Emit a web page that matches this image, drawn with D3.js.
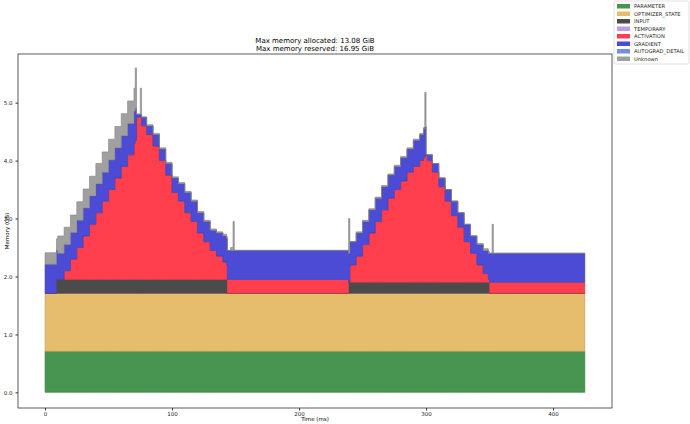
<!DOCTYPE html><html><head><meta charset="utf-8"><script src="https://cdn.jsdelivr.net/npm/d3@7"></script>
<style>body{margin:0;background:#fff}text{font-family:"DejaVu Sans",sans-serif}</style></head><body><svg id="c" width="690" height="424"></svg>
<script>
const categories=["PARAMETER","OPTIMIZER_STATE","INPUT","TEMPORARY","ACTIVATION","GRADIENT","AUTOGRAD_DETAIL","Unknown"];
const colors=["#479550","#e6bd6c","#4b4b4b","#b9a0e6","#ff3f4e","#4b4bd6","#6f8fe8","#a0a0a0"];
const time=[0,9,10,15,20,25,30,35,40,45,50,55,60,65,70,71,72,75,76,80,85,90,95,100,105,110,115,120,125,130,135,140,143,143.5,146,148,149,238,239,240,245,250,255,260,265,270,275,280,285,290,295,298,299,300,301,305,310,315,320,325,330,335,340,345,349,350,352,353,425];
const parameter=time.map(()=>0.71);
const optimizer=time.map(()=>1.0);
const input=[0,0.24,0.24,0.24,0.24,0.24,0.24,0.24,0.24,0.24,0.24,0.24,0.24,0.24,0.24,0.24,0.24,0.24,0.24,0.24,0.24,0.24,0.24,0.24,0.24,0.24,0.24,0.24,0.24,0.24,0.24,0.24,0.24,0,0,0,0,0,0.19,0.19,0.19,0.19,0.19,0.19,0.19,0.19,0.19,0.19,0.19,0.19,0.19,0.19,0.19,0.19,0.19,0.19,0.19,0.19,0.19,0.19,0.19,0.19,0.19,0.19,0.19,0,0,0,0];
const temporary=time.map(()=>0);
const activation=[0,0,0,0.15,0.35,0.55,0.75,0.95,1.15,1.35,1.55,1.75,1.95,2.15,2.35,2.4,2.8,2.8,2.65,2.5,2.3,2.05,1.8,1.5,1.35,1.15,1.0,0.8,0.65,0.5,0.4,0.3,0.25,0.24,0.24,0.24,0.24,0.24,0,0.3,0.45,0.65,0.85,1.05,1.25,1.45,1.6,1.75,1.9,2.0,2.1,2.15,2.18,2.2,2.1,1.9,1.65,1.4,1.15,0.95,0.7,0.5,0.3,0.15,0.05,0.19,0.19,0.19,0.19];
const gradient=[0.5,0.5,0.45,0.45,0.46,0.47,0.48,0.49,0.5,0.5,0.51,0.52,0.53,0.54,0.55,0.55,0.05,0.05,0.15,0.15,0.2,0.2,0.2,0.25,0.3,0.35,0.35,0.35,0.35,0.35,0.4,0.45,0.45,0.5,0.5,0.5,0.5,0.5,0.5,0.4,0.4,0.4,0.4,0.4,0.4,0.4,0.4,0.4,0.4,0.45,0.45,0.5,0.5,0,0.1,0.15,0.15,0.2,0.25,0.25,0.3,0.3,0.35,0.4,0.45,0.5,0.5,0.5,0.5];
const autograd=time.map(()=>0);
const unknown=[0.2,0.2,0.3,0.3,0.3,0.32,0.33,0.34,0.35,0.35,0.36,0.37,0.38,0.39,0.4,0.7,0,0.45,0,0.02,0.02,0.02,0.02,0.02,0.02,0.02,0.02,0.02,0.02,0.02,0.02,0.03,0.03,0,0.05,0.5,0,0,0.6,0,0.02,0.02,0.02,0.02,0.02,0.02,0.02,0.02,0.02,0.02,0.02,0.02,0.6,0,0,0,0,0,0,0,0,0,0.02,0.03,0.03,0,0.5,0,0];
const series=[parameter,optimizer,input,temporary,activation,gradient,autograd,unknown];
const xTicks=[0,100,200,300,400], yTicks=[0,1,2,3,4,5];

const svg=d3.select("#c");
const L=18,R=612,T=54,B=408;
const x=d3.scaleLinear().domain([-21.3,446.4]).range([L,R]);
const y=d3.scaleLinear().domain([-0.27,5.84]).range([B,T]);
const rows=time.map((t,i)=>{const r={t};categories.forEach((c,k)=>r[c]=series[k][i]);return r;});
const stack=d3.stack().keys(categories)(rows);
const area=d3.area().x(d=>x(d.data.t)).y0(d=>y(d[0])).y1(d=>y(d[1])).curve(d3.curveStepAfter);
svg.selectAll("path.a").data(stack).join("path").attr("class","a")
 .attr("d",area).attr("fill",(d,i)=>colors[i]).attr("stroke",(d,i)=>d3.color(colors[i]).darker(0.6)).attr("stroke-width",0.6)
 .attr("stroke-opacity",(d,i)=>i==3||i==6?0:1);
svg.append("rect").attr("x",L).attr("y",T).attr("width",R-L).attr("height",B-T).attr("fill","none").attr("stroke","#333").attr("stroke-width",0.8);
const xa=svg.append("g").attr("transform",`translate(0,${B})`).call(d3.axisBottom(x).tickValues(xTicks).tickSize(2.5).tickPadding(2));
const ya=svg.append("g").attr("transform",`translate(${L},0)`).call(d3.axisLeft(y).tickValues(yTicks).tickSize(2.5).tickPadding(3));
[xa,ya].forEach(a=>{a.select(".domain").remove();a.selectAll("text").attr("font-size",5.5).attr("fill","#222");a.selectAll("line").attr("stroke","#333");});
svg.append("text").attr("x",(L+R)/2).attr("y",421).attr("text-anchor","middle").attr("font-size",5.5).text("Time (ms)");
svg.append("text").attr("transform",`translate(9,${(T+B)/2}) rotate(-90)`).attr("text-anchor","middle").attr("font-size",5.5).text("Memory (GB)");
svg.append("text").attr("x",(L+R)/2).attr("y",43).attr("text-anchor","middle").attr("font-size",7).text("Max memory allocated: 13.08 GiB");
svg.append("text").attr("x",(L+R)/2).attr("y",51).attr("text-anchor","middle").attr("font-size",7).text("Max memory reserved: 16.95 GiB");
const lg=svg.append("g");
lg.append("rect").attr("x",614).attr("y",1).attr("width",75).attr("height",63).attr("fill","#fff").attr("stroke","#ccc").attr("stroke-width",0.6).attr("rx",1.5);
categories.forEach((c,i)=>{const yy=4+i*7.5;
 lg.append("rect").attr("x",617).attr("y",yy).attr("width",13).attr("height",4.5).attr("fill",colors[i]);
 lg.append("text").attr("x",634).attr("y",yy+4.3).attr("font-size",5.2).attr("fill","#222").text(c);});
</script></body></html>
